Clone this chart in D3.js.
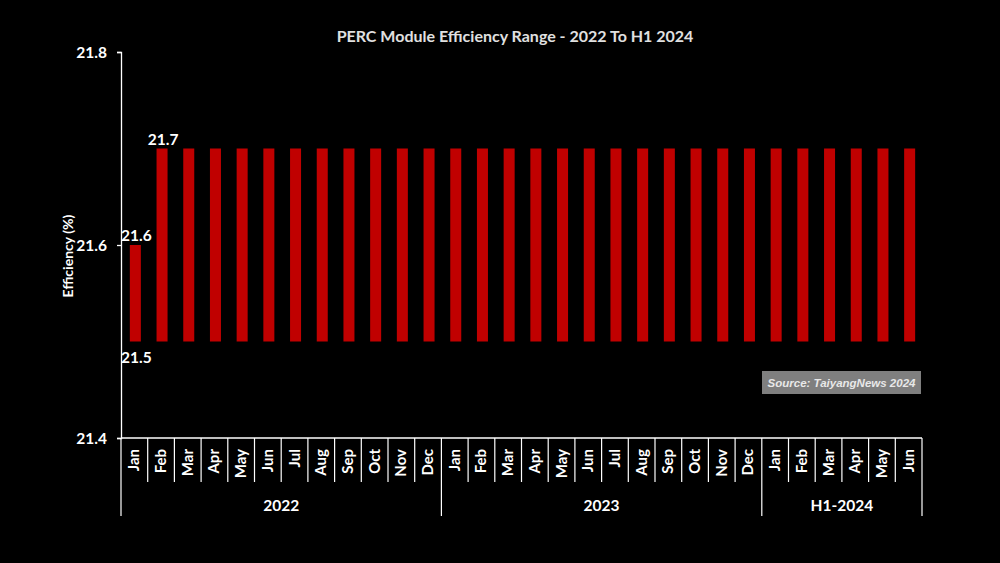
<!DOCTYPE html>
<html><head><meta charset="utf-8">
<script src="https://cdn.jsdelivr.net/npm/d3@7"></script>
<style>
html,body{margin:0;padding:0;background:#000;}
svg{display:block;font-family:Lato,"Open Sans",sans-serif;}
</style></head>
<body>
<svg id="c" width="1000" height="563"></svg>
<script>
const months = ["Jan","Feb","Mar","Apr","May","Jun","Jul","Aug","Sep","Oct","Nov","Dec",
                "Jan","Feb","Mar","Apr","May","Jun","Jul","Aug","Sep","Oct","Nov","Dec",
                "Jan","Feb","Mar","Apr","May","Jun"];
const groups = ["2022","2023","H1-2024"];
const groupSizes = [12,12,6];
const lowValues = Array(30).fill(21.5);
const highValues = [21.6,21.7,21.7,21.7,21.7,21.7,21.7,21.7,21.7,21.7,21.7,21.7,
                    21.7,21.7,21.7,21.7,21.7,21.7,21.7,21.7,21.7,21.7,21.7,21.7,
                    21.7,21.7,21.7,21.7,21.7,21.7];
const yTicks = [21.4,21.6,21.8];
const labelIdx = {high:[0,1], low:[0]};

const svg = d3.select("#c");
const W = 1000, H = 563;
svg.append("rect").attr("width",W).attr("height",H).attr("fill","#000");

const x0 = 121, x1 = 922, yTop = 52, yBot = 438;
const idx = d3.range(months.length);
const x = d3.scaleBand().domain(idx).range([x0,x1]).paddingInner(0).paddingOuter(0);
const y = d3.scaleLinear().domain([21.4,21.8]).range([yBot,yTop]);
const barW = 11;

// title
svg.append("text").attr("x",515).attr("y",42).attr("text-anchor","middle")
  .attr("fill","#e0e0e0").attr("font-size",16).attr("font-weight","bold")
  .text("PERC Module Efficiency Range - 2022 To H1 2024");

// y axis
const yAxis = d3.axisLeft(y).tickValues(yTicks).tickSize(4).tickFormat(d3.format(".1f"));
const gy = svg.append("g").attr("transform",`translate(${x0},0)`).call(yAxis);
gy.select(".domain").attr("stroke","#fff").attr("stroke-width",1.3);
gy.selectAll(".tick line").attr("stroke","#fff").attr("stroke-width",1.3);
gy.selectAll(".tick text").attr("fill","#fff").attr("font-size",15.5).attr("font-weight","bold")
  .attr("font-family","Lato,sans-serif").attr("x",-14).attr("dy","0.35em");

svg.append("text").attr("transform","translate(73,256) rotate(-90)").attr("text-anchor","middle")
  .attr("fill","#fff").attr("font-size",14).attr("font-weight","bold").text("Efficiency (%)");

// bars
svg.append("g").selectAll("rect").data(idx).join("rect")
  .attr("x",i=>x(i)+x.bandwidth()/2-barW/2+1)
  .attr("width",barW)
  .attr("y",i=>y(highValues[i]))
  .attr("height",i=>y(lowValues[i])-y(highValues[i]))
  .attr("fill","#c00000");

// value labels
svg.append("g").selectAll("text").data(labelIdx.high).join("text")
  .attr("x",i=>x(i)+x.bandwidth()/2+2).attr("y",i=>y(highValues[i])-4)
  .attr("text-anchor","middle").attr("fill","#fff").attr("font-size",15.5).attr("font-weight","bold")
  .text(i=>d3.format(".1f")(highValues[i]));
svg.append("g").selectAll("text").data(labelIdx.low).join("text")
  .attr("x",i=>x(i)+x.bandwidth()/2+2).attr("y",i=>y(lowValues[i])+21)
  .attr("text-anchor","middle").attr("fill","#fff").attr("font-size",15.5).attr("font-weight","bold")
  .text(i=>d3.format(".1f")(lowValues[i]));

// category axis
const gx = svg.append("g");
gx.append("line").attr("x1",x0).attr("x2",x1).attr("y1",yBot).attr("y2",yBot)
  .attr("stroke","#fff").attr("stroke-width",1.3);
const bounds = idx.map(i=>x(i)).concat([x1]);
let cum = [0]; groupSizes.forEach(s=>cum.push(cum[cum.length-1]+s));
gx.selectAll("line.sep").data(bounds).join("line").attr("class","sep")
  .attr("x1",d=>d).attr("x2",d=>d).attr("y1",yBot)
  .attr("y2",(d,i)=>cum.includes(i)?516:482)
  .attr("stroke","#fff").attr("stroke-width",1.2);
gx.selectAll("text.m").data(idx).join("text").attr("class","m")
  .attr("transform",i=>`translate(${x(i)+x.bandwidth()/2+5},449) rotate(-90)`)
  .attr("text-anchor","end").attr("fill","#fff").attr("font-size",15).attr("font-weight","bold")
  .text(i=>months[i]);
gx.selectAll("text.g").data(groups).join("text").attr("class","g")
  .attr("x",(d,i)=>(bounds[cum[i]]+bounds[cum[i+1]])/2).attr("y",511)
  .attr("text-anchor","middle").attr("fill","#fff").attr("font-size",15.5).attr("font-weight","bold")
  .text(d=>d);

// source box
svg.append("rect").attr("x",762).attr("y",371).attr("width",159).attr("height",23).attr("fill","#7f7f7f");
svg.append("text").attr("x",841.5).attr("y",387).attr("text-anchor","middle")
  .attr("fill","#e8e8e8").attr("font-size",11.5).attr("font-weight","bold").attr("font-style","italic")
  .attr("font-family","Liberation Sans, Arial, sans-serif").text("Source: TaiyangNews 2024");
</script>
</body></html>
